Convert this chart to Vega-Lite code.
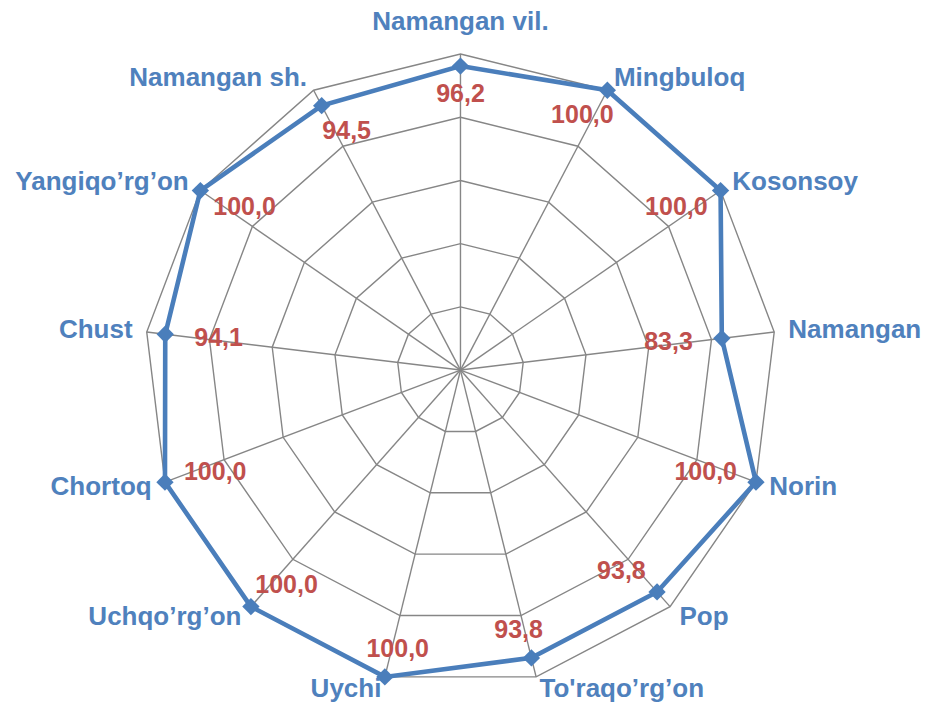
{
  "$schema": "https://vega.github.io/schema/vega-lite/v6.json",
  "width": 926,
  "height": 706,
  "autosize": {"type": "fit", "contains": "padding"},
  "padding": 0,
  "background": "white",
  "config": {"view": {"stroke": null}},
  "datasets": {
    "cats": [
      {"district": "Namangan vil.", "value": 96.2, "i": 0},
      {"district": "Mingbuloq", "value": 100.0, "i": 1},
      {"district": "Kosonsoy", "value": 100.0, "i": 2},
      {"district": "Namangan", "value": 83.3, "i": 3},
      {"district": "Norin", "value": 100.0, "i": 4},
      {"district": "Pop", "value": 93.8, "i": 5},
      {"district": "To'raqo’rg’on", "value": 93.8, "i": 6},
      {"district": "Uychi", "value": 100.0, "i": 7},
      {"district": "Uchqo’rg’on", "value": 100.0, "i": 8},
      {"district": "Chortoq", "value": 100.0, "i": 9},
      {"district": "Chust", "value": 94.1, "i": 10},
      {"district": "Yangiqo’rg’on", "value": 100.0, "i": 11},
      {"district": "Namangan sh.", "value": 94.5, "i": 12}
    ]
  },
  "data": {"name": "cats"},
  "transform": [
    {"calculate": "datum.i * 2 * PI / 13", "as": "theta"},
    {"calculate": "sin(datum.theta)", "as": "s"},
    {"calculate": "cos(datum.theta)", "as": "c"},
    {"calculate": "0", "as": "z"}
  ],
  "encoding": {
    "x": {"field": "px", "type": "quantitative", "scale": {"domain": [-145.7, 147.3], "nice": false, "zero": false}, "axis": null},
    "y": {"field": "py", "type": "quantitative", "scale": {"domain": [-106.3, 117.1], "nice": false, "zero": false}, "axis": null}
  },
  "layer": [
    {
      "transform": [
        {"calculate": "100 * datum.s", "as": "px"},
        {"calculate": "100 * datum.c", "as": "py"}
      ],
      "mark": {"type": "rule", "stroke": "#868686", "strokeWidth": 1.4},
      "encoding": {
        "x2": {"field": "z"},
        "y2": {"field": "z"}
      }
    },
    {
      "transform": [
        {"calculate": "[20, 40, 60, 80, 100]", "as": "rings"},
        {"flatten": ["rings"], "as": ["ring"]},
        {"calculate": "datum.ring * datum.s", "as": "px"},
        {"calculate": "datum.ring * datum.c", "as": "py"}
      ],
      "mark": {"type": "line", "stroke": "#868686", "strokeWidth": 1.4, "interpolate": "linear-closed"},
      "encoding": {
        "detail": {"field": "ring", "type": "nominal"},
        "order": {"field": "i", "type": "quantitative"}
      }
    },
    {
      "transform": [
        {"calculate": "datum.value * datum.s", "as": "px"},
        {"calculate": "datum.value * datum.c", "as": "py"}
      ],
      "mark": {"type": "line", "stroke": "#4A7EBB", "strokeWidth": 4.6, "interpolate": "linear-closed", "strokeJoin": "miter"},
      "encoding": {
        "order": {"field": "i", "type": "quantitative"}
      }
    },
    {
      "transform": [
        {"calculate": "datum.value * datum.s", "as": "px"},
        {"calculate": "datum.value * datum.c", "as": "py"}
      ],
      "mark": {"type": "point", "shape": "diamond", "filled": true, "size": 300, "color": "#4A7EBB", "opacity": 1}
    },
    {
      "transform": [
        {"calculate": "(datum.value - 17) * datum.s", "as": "px"},
        {"calculate": "(datum.value - 9) * datum.c", "as": "py"},
        {"calculate": "replace(format(datum.value, '.1f'), '.', ',')", "as": "label"}
      ],
      "mark": {"type": "text", "font": "Liberation Sans", "fontWeight": "bold", "fontSize": 25, "color": "#C0504D", "align": "center", "baseline": "middle"},
      "encoding": {"text": {"field": "label"}}
    },
    {
      "transform": [
        {"filter": "datum.s > 0.05"},
        {"calculate": "104.5 * datum.s", "as": "px"},
        {"calculate": "max(104.5 * datum.c, -101)", "as": "py"}
      ],
      "mark": {"type": "text", "font": "Liberation Sans", "fontWeight": "bold", "fontSize": 26, "color": "#4F81BD", "align": "left", "baseline": "middle"},
      "encoding": {"text": {"field": "district"}}
    },
    {
      "transform": [
        {"filter": "datum.s < -0.05"},
        {"calculate": "104.5 * datum.s", "as": "px"},
        {"calculate": "max(104.5 * datum.c, -101)", "as": "py"}
      ],
      "mark": {"type": "text", "font": "Liberation Sans", "fontWeight": "bold", "fontSize": 26, "color": "#4F81BD", "align": "right", "baseline": "middle"},
      "encoding": {"text": {"field": "district"}}
    },
    {
      "transform": [
        {"filter": "abs(datum.s) <= 0.05"},
        {"calculate": "110 * datum.s", "as": "px"},
        {"calculate": "110 * datum.c", "as": "py"}
      ],
      "mark": {"type": "text", "font": "Liberation Sans", "fontWeight": "bold", "fontSize": 26, "color": "#4F81BD", "align": "center", "baseline": "middle"},
      "encoding": {"text": {"field": "district"}}
    }
  ]
}
